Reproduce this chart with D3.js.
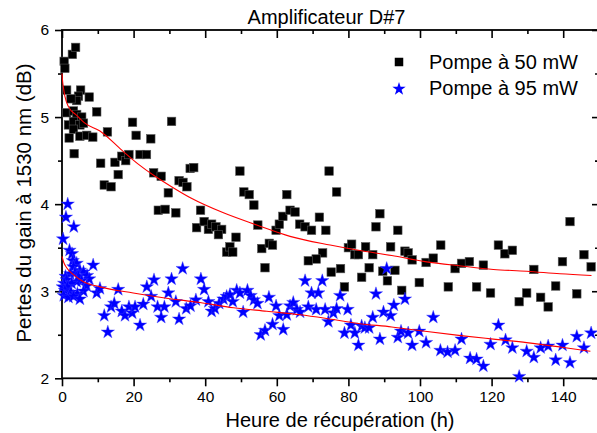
<!DOCTYPE html>
<html>
<head>
<meta charset="utf-8">
<script src="https://cdn.jsdelivr.net/npm/d3@7/dist/d3.min.js"></script>
<style>
  html, body { margin: 0; padding: 0; background: #fff; }
  svg { display: block; font-family: "Liberation Sans", Arial, sans-serif; }
</style>
</head>
<body>
<div id="chart"></div>
<script>
// values: [heure (h), pertes (dB)]
var pompe50 = [
  [0.6,5.64],[0.8,5.56],[2.9,5.72],[3.8,5.80],[1.3,5.31],[5.2,5.31],[4.6,5.24],[4.1,5.19],[2.5,5.21],[7.6,5.23],
  [9.7,5.06],[1.3,5.05],[3.2,5.07],[4.1,5.03],[5.5,5.00],[1.8,4.91],[3.2,4.95],[5.0,4.91],[6.0,4.93],[2.0,4.76],
  [3.2,4.86],[5.0,4.78],[6.9,4.79],[8.6,4.77],[3.4,4.58],[12.7,4.83],[19.7,4.94],[20.7,4.79],[24.8,4.75],[30.6,4.95],
  [10.8,4.47],[14.8,4.48],[15.7,4.34],[11.8,4.22],[13.7,4.20],[16.7,4.55],[17.8,4.50],[18.7,4.57],[21.8,4.57],[23.6,4.57],
  [25.6,4.36],[27.7,4.32],[29.7,4.13],[32.7,4.27],[33.8,4.25],[34.9,4.20],[35.8,4.41],[36.8,4.42],[26.9,3.93],[28.8,3.94],
  [31.8,3.90],[38.7,3.93],[37.6,3.73],[39.7,3.80],[40.9,3.71],[41.8,3.77],[43.0,3.74],[44.6,3.71],[43.7,3.65],[46.0,3.45],
  [46.9,3.51],[47.7,3.45],[48.6,3.62],[49.7,4.38],[50.8,4.14],[52.3,4.11],[53.6,3.99],[54.7,3.76],[55.8,3.49],[56.7,3.27],
  [57.9,3.55],[58.8,3.53],[59.8,3.70],[60.7,3.77],[61.7,3.86],[62.8,4.11],[63.7,3.93],[65.1,3.91],[66.4,3.77],[67.9,3.74],
  [69.7,3.70],[71.9,3.85],[73.7,3.70],[72.8,3.44],[71.0,3.37],[68.8,3.35],[75.2,3.22],[74.6,4.38],[76.7,4.14],[77.8,3.26],
  [78.9,3.05],[80.0,3.50],[80.9,3.54],[81.8,3.42],[82.8,3.42],[83.7,3.16],[84.8,3.51],[85.8,3.27],[86.8,3.42],[87.7,3.74],
  [88.8,3.89],[89.6,3.23],[90.9,3.12],[91.8,3.51],[93.0,3.24],[93.8,3.70],[94.9,3.01],[95.8,3.46],[96.7,3.44],[97.8,3.36],
  [99.8,3.10],[101.7,3.33],[103.7,3.38],[105.8,3.53],[107.9,3.05],[109.8,3.26],[111.6,3.32],[113.8,3.34],[115.8,3.05],[117.7,3.30],
  [119.7,2.98],[121.9,3.53],[123.7,3.43],[125.8,3.47],[127.7,2.88],[129.8,2.98],[131.8,3.25],[133.7,2.93],[135.8,2.82],[137.9,3.06],
  [139.8,3.34],[141.9,3.80],[143.8,2.97],[145.8,3.42],[147.8,3.28]
];
var pompe95 = [
  [0.3,3.60],[1.1,3.85],[1.6,4.00],[3.3,3.74],[2.1,3.47],[2.8,3.43],[3.0,3.35],[4.1,3.32],[3.2,3.28],[5.0,3.24],
  [6.0,3.22],[3.6,3.21],[2.3,3.20],[1.0,3.17],[4.6,3.17],[7.0,3.18],[7.6,3.14],[8.7,3.30],[1.3,3.13],[5.5,3.12],
  [4.1,3.11],[0.6,3.09],[2.7,3.09],[0.2,3.05],[1.5,3.05],[6.9,3.06],[0.8,3.01],[2.5,2.99],[6.0,3.00],[4.3,2.97],
  [0.5,2.95],[1.8,2.93],[3.2,2.94],[5.0,2.91],[9.7,2.98],[10.6,3.03],
  [11.8,2.72],[12.8,2.53],[13.7,2.82],[14.6,2.86],[15.7,3.02],[16.7,2.77],[17.6,2.72],[18.7,2.82],[19.6,2.75],[20.4,2.82],
  [21.8,2.61],[22.7,2.85],[23.7,3.05],[24.9,2.94],[25.7,3.13],[26.7,2.82],[27.7,2.70],[28.6,2.82],[29.7,2.98],[30.6,3.14],
  [31.8,2.88],[32.7,2.68],[33.7,3.26],[34.7,2.80],[35.9,2.83],[37.4,2.90],[38.8,3.14],[39.7,3.02],[40.9,2.88],[41.8,2.77],
  [42.7,2.80],[43.9,2.86],[45.1,2.91],[46.0,2.94],[46.9,2.96],[47.7,2.88],[48.8,3.01],[49.7,2.98],[50.6,2.76],[51.8,3.01],
  [52.7,2.95],[53.6,2.90],[54.6,2.86],[55.5,2.50],[56.7,2.55],[57.8,2.93],[58.8,2.62],[59.8,2.83],[60.7,2.72],[61.8,2.56],
  [62.8,2.73],[63.7,2.83],[64.6,2.87],[65.6,2.79],[66.5,2.76],[67.9,3.12],[68.8,2.82],[69.7,2.98],[71.0,2.79],[71.6,2.98],
  [72.7,3.12],[73.5,2.79],[74.4,2.65],[75.8,2.75],[76.7,2.80],[77.7,2.95],[78.9,2.52],[79.8,2.79],[80.7,2.61],[81.8,2.52],
  [82.8,2.38],[83.7,2.60],[84.6,2.58],[85.8,2.58],[86.8,2.70],[87.7,2.97],[88.8,2.45],[89.8,2.76],[90.7,3.26],[91.8,2.72],
  [92.7,2.84],[93.8,2.47],[94.7,2.54],[95.8,2.91],[96.7,2.52],[97.8,2.38],[99.8,2.54],[101.7,2.41],[103.7,2.70],[105.7,2.32],
  [107.7,2.30],[109.8,2.32],[111.6,2.45],[114.0,2.23],[115.8,2.22],[117.7,2.14],[119.7,2.39],[121.9,2.61],[123.9,2.44],[125.8,2.35],
  [127.7,2.02],[129.8,2.31],[131.8,2.24],[133.7,2.35],[135.8,2.37],[137.9,2.21],[139.8,2.38],[141.9,2.18],[143.8,2.48],[145.8,2.35],
  [147.8,2.52]
];
// red fitted curves
var fit50 = [
  [0,5.50],[0.2,5.40],[0.5,5.31],[0.8,5.24],[1.8,5.12],[4.1,5.02],[6.4,4.93],[10.6,4.84],[16.7,4.62],[21.3,4.46],
  [26,4.32],[30.6,4.20],[36,4.07],[45.1,3.90],[54.4,3.76],[63.7,3.63],[74.9,3.53],[82.8,3.47],[92.1,3.41],[101.4,3.34],
  [111.4,3.29],[120.5,3.25],[129.8,3.23],[139.1,3.20],[147.9,3.18]
];
var fit95 = [
  [0,3.40],[0.5,3.33],[1.3,3.27],[3.2,3.19],[6,3.11],[10.6,3.05],[19.9,2.98],[29.2,2.92],[38.5,2.87],[47.9,2.81],
  [57.2,2.77],[66.5,2.73],[73.5,2.69],[82.8,2.63],[92.1,2.59],[101.4,2.54],[111.4,2.49],[120.5,2.45],[129.8,2.41],
  [139.1,2.36],[147.6,2.31]
];
var xMajor = [0, 20, 40, 60, 80, 100, 120, 140];
var xMinor = [10, 30, 50, 70, 90, 110, 130, 150];
var yMajor = [2, 3, 4, 5, 6];
var yMinor = [2.5, 3.5, 4.5, 5.5];

var W = 597, H = 433;
var x = d3.scaleLinear().domain([0, 150]).range([62, 599]);
var y = d3.scaleLinear().domain([2, 6]).range([378.3, 30]);
var FONT = "'Liberation Sans', Arial, sans-serif";

var svg = d3.select("#chart").append("svg").attr("width", W).attr("height", H);

// axes: left/bottom ticks out, top/right ticks in
function ax(gen, pos, vals, size, labels) {
  var g = svg.append("g").attr("transform", pos)
    .call(gen.tickValues(vals).tickSize(size).tickPadding(5)
      .tickFormat(labels ? d3.format("d") : ""));
  g.select(".domain").remove();
  g.selectAll("line").attr("stroke", "#000").attr("stroke-width", 1.6);
  g.selectAll("text").attr("font-family", FONT).attr("font-size", 15.5).attr("fill", "#000");
  return g;
}
ax(d3.axisBottom(x), "translate(0," + y(2) + ")", xMajor, 8, true);
ax(d3.axisBottom(x), "translate(0," + y(2) + ")", xMinor, 4, false);
ax(d3.axisTop(x), "translate(0," + y(6) + ")", xMajor, -8, false);
ax(d3.axisTop(x), "translate(0," + y(6) + ")", xMinor, -4, false);
ax(d3.axisLeft(y), "translate(" + x(0) + ",0)", yMajor, 7, true).selectAll("text").attr("dx", "-1");
ax(d3.axisLeft(y), "translate(" + x(0) + ",0)", yMinor, 4, false);
ax(d3.axisRight(y), "translate(" + x(150) + ",0)", yMajor, -7, false);
ax(d3.axisRight(y), "translate(" + x(150) + ",0)", yMinor, -4, false);

svg.append("rect").attr("x", x(0)).attr("y", y(6)).attr("width", x(150) - x(0)).attr("height", y(2) - y(6))
  .attr("fill", "none").attr("stroke", "#000").attr("stroke-width", 1.8);

var line = d3.line().x(function (d) { return x(d[0]); }).y(function (d) { return y(d[1]); }).curve(d3.curveMonotoneX);
var S = 8.5;

// Pompe à 50 mW : squares
svg.append("g").selectAll("rect").data(pompe50).join("rect")
  .attr("x", function (d) { return x(d[0]) - S / 2; }).attr("y", function (d) { return y(d[1]) - S / 2; })
  .attr("width", S).attr("height", S).attr("fill", "#000")
  .attr("stroke", "#555").attr("stroke-width", 0.6);
svg.append("path").attr("d", line(fit50)).attr("fill", "none").attr("stroke", "#ff0000").attr("stroke-width", 1.1);

// Pompe à 95 mW : stars
var star = d3.symbol().type(d3.symbolStar).size(55);
svg.append("g").selectAll("path").data(pompe95).join("path")
  .attr("transform", function (d) { return "translate(" + x(d[0]) + "," + y(d[1]) + ")"; })
  .attr("d", star).attr("fill", "#0000ff").attr("stroke", "#3a3aff").attr("stroke-width", 0.4);
svg.append("path").attr("d", line(fit95)).attr("fill", "none").attr("stroke", "#ff0000").attr("stroke-width", 1.1);

// legend
svg.append("rect").attr("x", 399 - S / 2).attr("y", 62 - S / 2).attr("width", S).attr("height", S).attr("fill", "#000");
svg.append("path").attr("transform", "translate(399,89)").attr("d", star).attr("fill", "#0000ff");
svg.append("text").attr("x", 429).attr("y", 69).attr("font-family", FONT).attr("font-size", 20).text("Pompe à 50 mW");
svg.append("text").attr("x", 429).attr("y", 95).attr("font-family", FONT).attr("font-size", 20).text("Pompe à 95 mW");

// titles
svg.append("text").attr("x", 326.5).attr("y", 24).attr("text-anchor", "middle")
  .attr("font-family", FONT).attr("font-size", 20).text("Amplificateur D#7");
svg.append("text").attr("x", 340).attr("y", 427).attr("text-anchor", "middle")
  .attr("font-family", FONT).attr("font-size", 20).text("Heure de récupération (h)");
svg.append("text").attr("transform", "translate(31,203) rotate(-90)").attr("text-anchor", "middle")
  .attr("font-family", FONT).attr("font-size", 20.5).text("Pertes du gain à 1530 nm (dB)");
</script>
</body>
</html>
